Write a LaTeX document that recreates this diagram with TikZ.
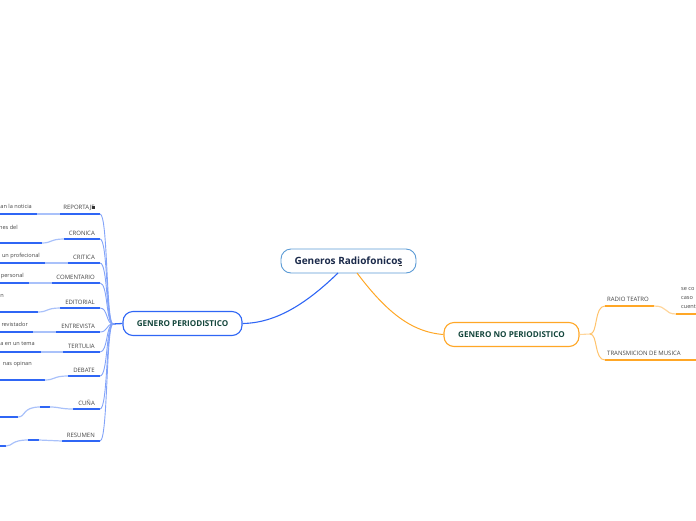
\documentclass[tikz,border=0pt]{standalone}
\usepackage{fontspec}
\setmainfont{Open Sans}
\usepackage{tikz}
\usetikzlibrary{positioning, calc}
\definecolor{rootblue}{HTML}{5B9BD5}
\definecolor{linkblue}{HTML}{2F66F5}
\definecolor{softblue}{HTML}{A9C1FA}
\definecolor{linkorange}{HTML}{FFA726}
\definecolor{softorange}{HTML}{FFD59A}
\definecolor{rootink}{HTML}{1B2A4A}
\definecolor{mainink}{HTML}{14463C}
\definecolor{leafink}{HTML}{444444}

\begin{document}
\begin{tikzpicture}[
    x=1pt, y=-1pt,
    rootbox/.style={rectangle, draw=rootblue, fill=white, rounded corners=10pt,
                  minimum width=135pt, minimum height=24pt, line width=0.9pt,
                  font=\fontsize{10}{12}\selectfont\bfseries, text=rootink},
    mainbox/.style={rectangle, fill=white, rounded corners=10pt,
                  minimum height=24pt, line width=1.1pt,
                  font=\fontsize{8.1}{10}\selectfont\bfseries, text=mainink},
    leaf/.style={font=\fontsize{6}{7}\selectfont, text=leafink, anchor=south east, inner sep=0pt},
    clipped/.style={font=\fontsize{5.6}{7}\selectfont, text=leafink, anchor=east, inner sep=0pt},
    bar/.style={line width=1.2pt, linkblue},
    softbar/.style={line width=1.2pt, softblue},
    bough/.style={line width=0.9pt, linkblue!60!white},
    obar/.style={line width=1.2pt, linkorange},
    osoft/.style={line width=1.2pt, softorange},
    obough/.style={line width=1pt, softorange!60!linkorange},
    notemark/.style={rectangle, fill=black!80, inner sep=0pt}
]
    \useasboundingbox (0,0) rectangle (696,520);

    \node[rootbox] (radio) at (348.5,261) {Generos Radiofonicos};
    \node[notemark, minimum width=3pt, minimum height=1pt] (radiomark) at (400.5,265.5) {};
    \node[mainbox, draw=linkblue, minimum width=119pt] (peri) at (182.5,323.5) {GENERO PERIODISTICO};
    \node[mainbox, draw=linkorange, minimum width=135pt] (noperi) at (511.5,334.5) {GENERO NO PERIODISTICO};

    % first level
    \coordinate (radiob) at (338,273);
    \coordinate (radioo) at (357,273);
    \draw[line width=1.1pt, linkblue] (radiob) .. controls (305,305) and (275,323) .. (peri.east);
    \draw[line width=1pt, linkorange] (radioo) .. controls (385,310) and (410,332) .. (noperi.west);
    \coordinate (hub) at (113,324);
    \draw[line width=1.3pt, linkblue] (peri.west) -- (hub);
    \coordinate (ohub) at (590,334);
    \draw[line width=1.1pt, softorange] (noperi.east) -- (ohub);

    % leaves on the left
    \foreach \name/\txt/\xa/\ya in {
        reportaje/REPORTAJE/60/214, cronica/CRONICA/64/239, critica/CRITICA/68/263,
        comentario/COMENTARIO/52/283, editorial/EDITORIAL/60/308, entrevista/ENTREVISTA/56/332,
        tertulia/TERTULIA/63/352, debate/DEBATE/68/376, cuna/CUÑA/73/409, resumen/RESUMEN/62/441}{
        \coordinate (\name a) at (\xa,\ya);
        \coordinate (\name b) at (100,\ya);
        \node[leaf] (\name) at (95,\ya-3) {\txt};
        \draw[bar] (\name a) -- (\name b);
        \draw[bough] (hub) .. controls (106,324) and (108,\ya) .. (\name b);
    }
    \node[notemark, minimum width=3pt, minimum height=3pt] (reportajemark) at (93.5,207.5) {};

    % second level on the left
    \foreach \name/\txt/\xa/\ya/\tx/\ty in {
        lnoticia/an la noticia/37/214/32/206, lradio/nes del/42/243/18/227,
        lprof/un profecional/45/263/40/256, lpers/personal/29/283/24/276,
        ledit/n/38/312/4/296, lrev/revistador/33/332/28/324,
        ltema/a en un tema/41/352/35/344, lopin/nas opinan/45/380/32/364}{
        \coordinate (\name e) at (\xa,\ya);
        \coordinate (\name s) at (0,\ya);
        \node[clipped] (\name) at (\tx,\ty) {\txt};
        \draw[bar] (\name s) -- (\name e);
    }
    \draw[softbar] (lnoticiae) -- (reportajea);
    \draw[softbar] (lradioe) .. controls (52,243) and (50,239) .. (cronicaa);
    \draw[softbar] (lprofe) -- (criticaa);
    \draw[softbar] (lperse) -- (comentarioa);
    \draw[softbar] (ledite) .. controls (48,312) and (46,308) .. (editoriala);
    \draw[softbar] (lreve) -- (entrevistaa);
    \draw[softbar] (ltemae) -- (tertuliaa);
    \draw[softbar] (lopine) .. controls (55,380) and (53,376) .. (debatea);

    % the two low branches
    \coordinate (cunaend) at (0,417);
    \coordinate (cunaf) at (18,417);
    \coordinate (cunag) at (40,407);
    \coordinate (cunah) at (50,407);
    \draw[bar] (cunaend) -- (cunaf);
    \draw[softbar] (cunaf) .. controls (26,417) and (22,407) .. (cunag);
    \draw[bar] (cunag) -- (cunah);
    \draw[softbar] (cunah) .. controls (60,407) and (60,409) .. (cunaa);
    \coordinate (resend) at (0,446);
    \coordinate (resf) at (6,446);
    \coordinate (resg) at (28,440);
    \coordinate (resh) at (39,440);
    \draw[bar] (resend) -- (resf);
    \draw[softbar] (resf) .. controls (13,446) and (11,440) .. (resg);
    \draw[bar] (resg) -- (resh);
    \draw[softbar] (resh) .. controls (50,440) and (50,441) .. (resumena);

    % right side
    \coordinate (teatroa) at (605,306);
    \coordinate (teatrob) at (654,306);
    \coordinate (teatroc) at (676,314);
    \coordinate (teatrod) at (696,314);
    \coordinate (musicaa) at (605,360);
    \coordinate (musicab) at (696,360);
    \node[leaf, anchor=south west] (teatro) at (607,302) {RADIO TEATRO};
    \node[leaf, anchor=south west] (musica) at (607,356) {TRANSMICION DE MUSICA};
    \draw[obough] (ohub) .. controls (598,334) and (594,306) .. (teatroa);
    \draw[obough] (ohub) .. controls (598,334) and (594,360) .. (musicaa);
    \draw[obar] (teatroa) -- (teatrob);
    \draw[osoft] (teatrob) .. controls (668,306) and (664,314) .. (teatroc);
    \draw[obar] (teatroc) -- (teatrod);
    \draw[obar] (musicaa) -- (musicab);
    \node[clipped, anchor=west] (secon) at (681,289) {se co};
    \node[clipped, anchor=west] (caso) at (681,298) {caso};
    \node[clipped, anchor=west] (cuent) at (681,307) {cuent};
\end{tikzpicture}
\end{document}
